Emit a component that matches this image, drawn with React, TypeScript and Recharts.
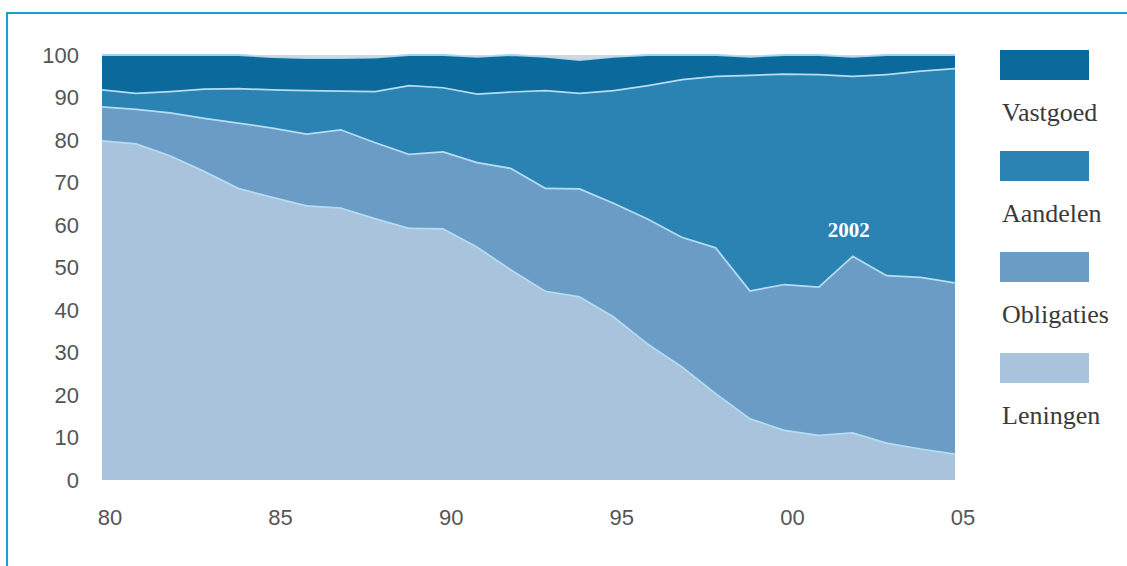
import { AreaChart, Area, XAxis, YAxis, ReferenceDot } from "recharts";

const years = [
  1980, 1981, 1982, 1983, 1984, 1985, 1986, 1987, 1988, 1989, 1990, 1991, 1992,
  1993, 1994, 1995, 1996, 1997, 1998, 1999, 2000, 2001, 2002, 2003, 2004, 2005,
];

// shares in % per category, bottom to top of the stack
const leningen = [
  80.0, 79.3, 76.5, 72.8, 68.8, 66.7, 64.7, 64.2, 61.7, 59.4, 59.3, 55.0, 49.6,
  44.6, 43.3, 38.6, 32.2, 26.8, 20.5, 14.6, 11.9, 10.7, 11.3, 8.9, 7.5, 6.3,
];
const obligaties = [
  8.0, 8.1, 10.1, 12.5, 15.4, 16.3, 16.9, 18.4, 17.9, 17.4, 18.1, 19.9, 23.9,
  24.2, 25.4, 26.7, 29.4, 30.5, 34.3, 30.1, 34.3, 34.9, 41.6, 39.4, 40.4, 40.3,
];
const aandelen = [
  4.0, 3.8, 5.0, 6.9, 8.1, 9.0, 10.2, 9.1, 12.0, 16.2, 15.1, 16.1, 18.0, 23.0,
  22.5, 26.5, 31.4, 37.1, 40.4, 50.7, 49.5, 50.0, 42.3, 47.3, 48.5, 50.4,
];
const vastgoed = [
  8.0, 8.8, 8.4, 7.8, 7.7, 7.5, 7.5, 7.6, 7.8, 7.0, 7.5, 8.6, 8.5, 7.8, 7.6,
  7.8, 7.0, 5.6, 4.8, 4.2, 4.3, 4.4, 4.4, 4.4, 3.6, 3.0,
];
// small unlabelled remainder up to 100
const overig = [
  0, 0, 0, 0, 0, 0.5, 0.7, 0.7, 0.6, 0, 0, 0.4, 0, 0.4, 1.2, 0.4, 0, 0, 0, 0.4,
  0, 0, 0.4, 0, 0, 0,
];

const xTicks = [1980, 1985, 1990, 1995, 2000, 2005];
const yTicks = [0, 10, 20, 30, 40, 50, 60, 70, 80, 90, 100];

const annotationYear = 2002;
const annotationLevel = 59;

const legendItems = [
  { name: "Vastgoed", color: "#0b6a9b" },
  { name: "Aandelen", color: "#2a83b2" },
  { name: "Obligaties", color: "#6a9cc6" },
  { name: "Leningen", color: "#a8c3db" },
];

const data = years.map((year, i) => ({
  year,
  leningen: leningen[i],
  obligaties: obligaties[i],
  aandelen: aandelen[i],
  vastgoed: vastgoed[i],
  overig: overig[i],
}));

const edge = "#b4ddf3";
const axisFont = "'Liberation Sans', Arial, sans-serif";
const serif = "'Liberation Serif', 'Times New Roman', serif";

const LegendBlock = () => (
  <div style={{ position: "absolute", left: 1000, top: 50, width: 127, height: 420 }}>
    {legendItems.map((item, i) => (
      <div key={item.name}>
        <div
          style={{
            position: "absolute",
            left: 0,
            top: i * 101,
            width: 89,
            height: 30,
            background: item.color,
          }}
        />
        <div
          style={{
            position: "absolute",
            left: 2,
            top: i * 101 + 47,
            fontFamily: serif,
            fontSize: 26,
            lineHeight: "32px",
            color: "#3a3a3a",
            whiteSpace: "nowrap",
          }}
        >
          {item.name}
        </div>
      </div>
    ))}
  </div>
);

export default function App() {
  return (
    <div
      style={{
        position: "absolute",
        left: 0,
        top: 0,
        width: 1127,
        height: 566,
        background: "#fff",
        overflow: "hidden",
      }}
    >
      <div
        style={{
          position: "absolute",
          left: 6,
          top: 12,
          right: -10,
          bottom: -10,
          borderTop: "2px solid #13a3d0",
          borderLeft: "2px solid #13a3d0",
        }}
      />
      <div style={{ position: "absolute", left: 0, top: 0 }}>
        <AreaChart
          width={1127}
          height={566}
          data={data}
          margin={{ top: 55, right: 172, bottom: 36, left: 42 }}
        >
          <XAxis
            dataKey="year"
            type="number"
            domain={[1980, 2005]}
            ticks={xTicks}
            tickFormatter={(v) => String(v % 100).padStart(2, "0")}
            axisLine={false}
            tickLine={false}
            tickSize={0}
            tickMargin={29}
            height={50}
            tick={{ fontSize: 22, fill: "#555", fontFamily: axisFont, dx: 8 }}
          />
          <YAxis
            type="number"
            domain={[0, 100]}
            ticks={yTicks}
            axisLine={false}
            tickLine={false}
            tickSize={0}
            tickMargin={23}
            width={60}
            tick={{ fontSize: 22, fill: "#555", fontFamily: axisFont }}
          />
          <Area
            type="linear"
            dataKey="leningen"
            stackId="s"
            fill="#a8c3db"
            fillOpacity={1}
            stroke={edge}
            strokeWidth={3.5}
            isAnimationActive={false}
          />
          <Area
            type="linear"
            dataKey="obligaties"
            stackId="s"
            fill="#6a9cc6"
            fillOpacity={1}
            stroke={edge}
            strokeWidth={3.5}
            isAnimationActive={false}
          />
          <Area
            type="linear"
            dataKey="aandelen"
            stackId="s"
            fill="#2a83b2"
            fillOpacity={1}
            stroke={edge}
            strokeWidth={3.5}
            isAnimationActive={false}
          />
          <Area
            type="linear"
            dataKey="vastgoed"
            stackId="s"
            fill="#0b6a9b"
            fillOpacity={1}
            stroke="#9fd2ee"
            strokeWidth={2}
            isAnimationActive={false}
          />
          <Area
            type="linear"
            dataKey="overig"
            stackId="s"
            fill="#cfd8e0"
            fillOpacity={1}
            stroke="none"
            isAnimationActive={false}
          />
          <ReferenceDot
            x={annotationYear}
            y={annotationLevel}
            r={1}
            fill="transparent"
            stroke="none"
            label={{
              value: "2002",
              position: "center",
              fill: "#ffffff",
              fontSize: 21,
              fontWeight: "bold",
              fontFamily: serif,
              dx: -4,
            }}
          />
        </AreaChart>
      </div>
      <LegendBlock />
    </div>
  );
}
